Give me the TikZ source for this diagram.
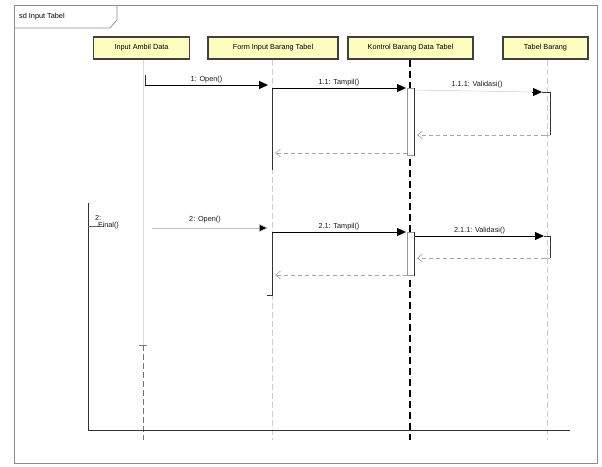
\documentclass[tikz,border=0pt]{standalone}
\usepackage{fontspec}
\setmainfont{Liberation Sans}
\usetikzlibrary{arrows.meta}
\begin{document}
\begin{tikzpicture}[x=1pt,y=-1pt,font=\fontsize{7.3}{8.5}\selectfont,
  partbox/.style={draw=black!75,line width=1.3pt,fill=yellow!25,minimum height=22pt,inner sep=1pt},
  msg/.style={draw=black,line width=1pt,-{Triangle[length=9pt,width=8pt]}},
  faintmsg/.style={draw=black!25,line width=0.6pt,-{Triangle[length=9pt,width=8pt,fill=black]}},
  retmsg/.style={draw=black!35,dashed,dash pattern=on 4pt off 3pt,line width=0.6pt,-{Straight Barb[length=5pt,width=8pt]}},
  faintlife/.style={draw=black!20,dashed,dash pattern=on 6pt off 3pt,line width=0.7pt},
  blacklife/.style={draw=black,dashed,dash pattern=on 7pt off 4pt,line width=1.1pt},
  actbar/.style={draw=black!40,fill=white,line width=0.6pt},
  actedge/.style={draw=black!80,line width=1pt},
  lbl/.style={inner sep=1pt,text=black!90}]
\useasboundingbox (0,0) rectangle (602,466);
\fill[white] (0,0) rectangle (602,466);
% outer frame
\draw[black!45,line width=1pt] (14,5) rectangle (597,463);
\draw[black!45,line width=0.7pt] (14,28) -- (110,28) -- (117,20) -- (117,5);
\node[anchor=west,lbl,text=black] (title) at (18,17) {sd Input Tabel};
% participants
\node[partbox,minimum width=96pt] (p1) at (141.5,48) {Input Ambil Data};
\node[partbox,minimum width=130pt] (p2) at (273,48) {Form Input Barang Tabel};
\node[partbox,minimum width=125pt] (p3) at (410.5,48) {Kontrol Barang Data Tabel};
\node[partbox,minimum width=85pt] (p4) at (545.5,48) {Tabel Barang};
% lifeline ends
\coordinate (l1a) at (143,60); \coordinate (l1m) at (143,345); \coordinate (l1b) at (143,440);
\coordinate (l2b) at (272,440);
\coordinate (l3b) at (410,440);
\coordinate (l4b) at (547,440);
\draw[black!15,line width=0.7pt] (p1.south -| l1a) -- (l1m);
\draw[black!50,line width=0.6pt] (139,345) -- (147,345);
\draw[black!55,dashed,dash pattern=on 6pt off 3pt,line width=0.8pt] (l1m) -- (l1b);
\draw[faintlife] (p2.south -| l2b) -- (l2b);
\draw[blacklife] (p3.south -| l3b) -- (l3b);
\draw[faintlife] (p4.south -| l4b) -- (l4b);
% loop / frame on left
\coordinate (fa) at (88,203); \coordinate (fb) at (88,430); \coordinate (fc) at (570,430);
\draw[black!80,line width=1pt] (fa) -- (fb) -- (fc);
\coordinate (ft1) at (88,226); \coordinate (ft2) at (104,226);
\draw[black!60,line width=0.6pt] (ft1) -- (ft2);
\node[lbl,anchor=south west] (g2a) at (94,222) {2:};
\node[lbl,anchor=north west] (g2b) at (97,221) {Final()};
% ---------- group 1
\coordinate (s1a) at (145,75); \coordinate (s1) at (145,85); \coordinate (e1) at (268,85);
\draw[black!80,line width=1pt] (s1a) -- (s1);
\draw[msg] (s1) -- (e1) node[lbl,midway,above] (t1) {1: Open()};
\coordinate (a2t) at (272,88); \coordinate (a2b) at (272,170);
\draw[actedge] (a2t) -- (a2b);
\node[actbar,minimum width=7pt,minimum height=67pt,inner sep=0pt,anchor=north west] (act3a) at (407,88) {};
\coordinate (e11) at (406,88);
\draw[msg] (a2t) -- (e11) node[lbl,midway,above] (t11) {1.1: Tampil()};
\draw[actedge] (act3a.north east) -- (act3a.south east);
\coordinate (s111) at (415,90); \coordinate (e111) at (542,92); \coordinate (e111p) at (532,92);
\draw[black!20,line width=0.5pt] (s111) -- (e111p);
\draw[msg] (e111p) -- (e111);
\node[lbl] (t111) at (477,85) {1.1.1: Validasi()};
\coordinate (a4t) at (542,92); \coordinate (a4tr) at (550,92); \coordinate (a4b) at (550,135); \coordinate (a4bl) at (545,135);
\draw[actedge] (a4t) -- (a4tr) -- (a4b);
\draw[black!30,line width=0.6pt] (a4b) -- (a4bl);
\coordinate (r111) at (417,135);
\draw[retmsg] (a4bl) -- (r111);
\coordinate (r11s) at (407,153); \coordinate (r11e) at (275,153);
\draw[retmsg] (r11s) -- (r11e);
% ---------- group 2
\coordinate (s2) at (152,228); \coordinate (e2) at (268,228);
\draw[faintmsg] (s2) -- (e2);
\node[lbl] (t2) at (205,220) {2: Open()};
\coordinate (b2t) at (272,232); \coordinate (b2b) at (272,295); \coordinate (b2bl) at (267,295);
\draw[actedge] (b2t) -- (b2b) -- (b2bl);
\node[actbar,minimum width=7pt,minimum height=43pt,inner sep=0pt,anchor=north west] (act3b) at (407,232) {};
\coordinate (e21) at (406,232);
\draw[msg] (b2t) -- (e21) node[lbl,midway,above] (t21) {2.1: Tampil()};
\draw[actedge] (act3b.north east) -- (act3b.south east);
\coordinate (s211) at (415,236); \coordinate (e211) at (544,236);
\draw[msg] (s211) -- (e211) node[lbl,midway,above] (t211) {2.1.1: Validasi()};
\coordinate (b4t) at (544,236); \coordinate (b4tr) at (550,236); \coordinate (b4b) at (550,258); \coordinate (b4bl) at (545,258);
\draw[actedge] (b4t) -- (b4tr) -- (b4b);
\draw[black!30,line width=0.6pt] (b4b) -- (b4bl);
\coordinate (r211) at (417,258);
\draw[retmsg] (b4bl) -- (r211);
\coordinate (r21s) at (407,275); \coordinate (r21e) at (275,275);
\draw[retmsg] (r21s) -- (r21e);
\end{tikzpicture}
\end{document}
